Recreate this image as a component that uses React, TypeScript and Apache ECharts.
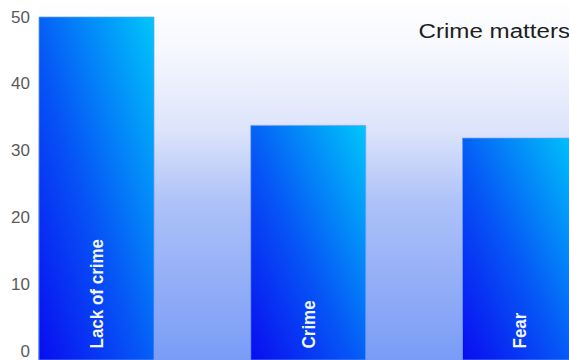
import React, { useEffect, useRef } from "react";
import * as echarts from "echarts";

const categories = ["Lack of crime", "Crime", "Fear"];
const values = [50, 33.8, 31.9];
const yTicks = [0, 10, 20, 30, 40, 50];
const titleText = "Crime matters";

export default function App() {
  const ref = useRef<HTMLDivElement>(null);
  useEffect(() => {
    if (!ref.current) return;
    const chart = echarts.init(ref.current, undefined, { renderer: "svg" });
    const barGrad = new echarts.graphic.LinearGradient(0, 1, 1, 0, [
      { offset: 0, color: "#0a0cf0" },
      { offset: 0.45, color: "#0656f6" },
      { offset: 1, color: "#00c6fb" },
    ]);
    chart.setOption({
      animation: false,
      backgroundColor: "#ffffff",
      graphic: [
        {
          type: "rect",
          z: -10,
          shape: { x: 38, y: 0, width: 531, height: 360 },
          style: {
            fill: new echarts.graphic.LinearGradient(0, 0, 0, 1, [
              { offset: 0, color: "#ffffff" },
              { offset: 0.15, color: "#f5f7fe" },
              { offset: 0.36, color: "#dde4fb" },
              { offset: 0.56, color: "#aec2f8" },
              { offset: 1, color: "#7a9cf6" },
            ]),
          },
          silent: true,
        },
        {
          type: "text",
          x: 570,
          y: 31,
          scaleX: 1.15,
          style: {
            text: titleText,
            fill: "#1e1e1e",
            font: "21px 'Liberation Sans', Arial, sans-serif",
            align: "right",
            verticalAlign: "middle",
          },
          z: 10,
        },
      ],
      grid: { left: 0, right: 0, top: 17, bottom: 8, containLabel: false },
      xAxis: {
        type: "value",
        min: -0.4557,
        max: 2.2314,
        show: false,
      },
      yAxis: {
        type: "value",
        min: 0,
        max: 50,
        interval: 10,
        offset: -36,
        axisLine: { show: false },
        axisTick: { show: false },
        splitLine: { show: false },
        axisLabel: {
          margin: 6,
          color: "#5a5a5a",
          fontSize: 17,
          fontFamily: "'Liberation Sans', Arial, sans-serif",
          customValues: yTicks,
        },
      },
      series: [
        {
          type: "custom",
          clip: false,
          data: values.map((v, i) => [i, v]),
          encode: { x: 0, y: 1 },
          renderItem: (params: any, api: any) => {
            const i = api.value(0);
            const v = api.value(1);
            const top = api.coord([i, v]);
            const base = api.coord([i, 0]);
            const bw = api.size([1, 0])[0] * 0.543;
            const bottom = api.getHeight();
            return {
              type: "group",
              children: [
                {
                  type: "rect",
                  shape: { x: top[0] - bw / 2, y: top[1], width: bw, height: bottom - top[1] },
                  style: { fill: barGrad, stroke: "rgba(110,160,250,0.7)", lineWidth: 1 },
                },
                {
                  type: "text",
                  x: top[0],
                  y: base[1] - 3,
                  rotation: Math.PI / 2,
                  scaleY: 1.1,
                  style: {
                    text: categories[params.dataIndex],
                    fill: "#f2f6ff",
                    font: "bold 17px 'Liberation Sans', Arial, sans-serif",
                    align: "left",
                    verticalAlign: "middle",
                  },
                },
              ],
            };
          },
        },
      ],
    });
    return () => chart.dispose();
  }, []);
  return <div ref={ref} style={{ width: 569, height: 360, position: "absolute", left: 0, top: 0 }} />;
}
